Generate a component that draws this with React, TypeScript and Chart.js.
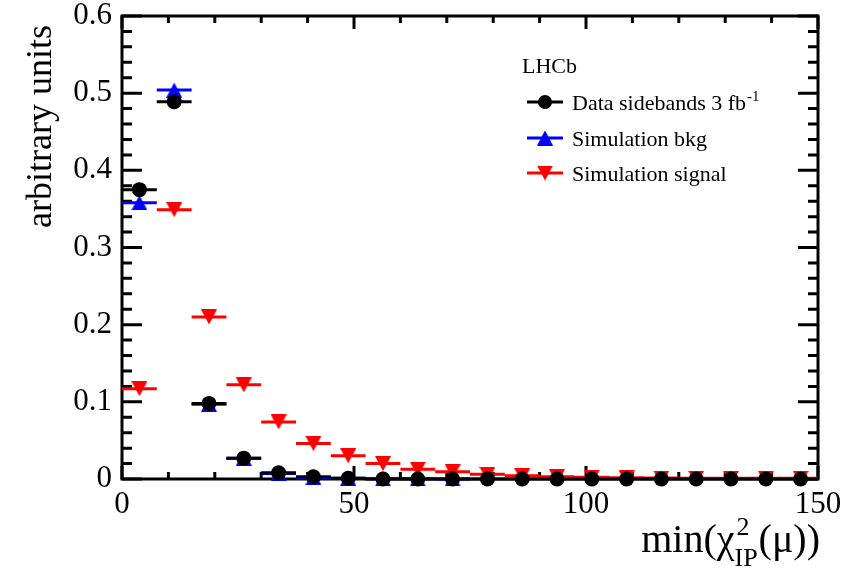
import React, { useEffect, useRef } from "react";
import { Chart, registerables } from "chart.js";

Chart.register(...registerables);

// ---- data ----
const binLow = [0, 7.5, 15, 22.5, 30, 37.5, 45, 52.5, 60, 67.5, 75, 82.5, 90, 97.5, 105, 112.5, 120, 127.5, 135, 142.5];
const binHigh = [7.5, 15, 22.5, 30, 37.5, 45, 52.5, 60, 67.5, 75, 82.5, 90, 97.5, 105, 112.5, 120, 127.5, 135, 142.5, 150];
const dataSidebands = [0.375, 0.489, 0.098, 0.027, 0.008, 0.003, 0.001, 0, 0, 0, 0, 0, 0, 0, 0, 0, 0, 0, 0, 0];
const simulationBkg = [0.358, 0.504, 0.097, 0.027, 0.007, 0.002, 0.001, 0.0003, 0.0002, 0.0001];
const simulationSignal = [0.117, 0.349, 0.21, 0.122, 0.074, 0.046, 0.03, 0.02, 0.0126, 0.0095, 0.006, 0.0043, 0.003, 0.0022, 0.0015, 0.0012, 0.001, 0.001, 0.001, 0.001];
const xTickValues = [0, 50, 100, 150];
const xTickLabels = ["0", "50", "100", "150"];
const yTickValues = [0, 0.1, 0.2, 0.3, 0.4, 0.5, 0.6];
const yTickLabels = ["0", "0.1", "0.2", "0.3", "0.4", "0.5", "0.6"];
const legendLabels = ["Data sidebands 3 fb", "Simulation bkg", "Simulation signal"];
const legendTitle = "LHCb";
const yTitle = "arbitrary units";

const FONT = "'Liberation Serif', 'Times New Roman', serif";
const BLACK = "#000000";
const BLUE = "#0000ff";
const RED = "#ff0000";

function makeTriangle(color: string, down: boolean): HTMLCanvasElement {
  const c = document.createElement("canvas");
  c.width = 16;
  c.height = 15;
  const g = c.getContext("2d")!;
  g.fillStyle = color;
  g.beginPath();
  if (down) {
    g.moveTo(0, 0);
    g.lineTo(16, 0);
    g.lineTo(8, 15);
  } else {
    g.moveTo(8, 0);
    g.lineTo(16, 15);
    g.lineTo(0, 15);
  }
  g.closePath();
  g.fill();
  return c;
}

function points(values: number[]) {
  return values.map((v, i) => ({ x: (binLow[i] + binHigh[i]) / 2, y: v }));
}

function bars(values: number[]) {
  const out: { x: number; y: number | null }[] = [];
  values.forEach((v, i) => {
    out.push({ x: binLow[i], y: v });
    out.push({ x: binHigh[i], y: v });
    out.push({ x: binHigh[i], y: null });
  });
  return out;
}

export default function App() {
  const ref = useRef<HTMLCanvasElement | null>(null);

  useEffect(() => {
    document.body.style.margin = "0";
    const canvas = ref.current!;
    const triUpBlue = makeTriangle(BLUE, false);
    const triDownRed = makeTriangle(RED, true);

    const rootPlugin = {
      id: "rootFrame",
      beforeDatasetsDraw(chart: any) {
        const { ctx, chartArea: a, scales } = chart;
        const xs = scales.x;
        const ys = scales.y;
        ctx.save();
        ctx.strokeStyle = BLACK;
        ctx.lineWidth = 3;
        ctx.lineCap = "butt";
        ctx.beginPath();
        for (let i = 0; i <= 15; i++) {
          const px = xs.getPixelForValue(i * 10);
          const len = i % 5 === 0 ? 13 : 7;
          ctx.moveTo(px, a.bottom);
          ctx.lineTo(px, a.bottom - len);
          ctx.moveTo(px, a.top);
          ctx.lineTo(px, a.top + len);
        }
        for (let i = 0; i <= 30; i++) {
          const py = ys.getPixelForValue(i * 0.02);
          const len = i % 5 === 0 ? 20 : 10;
          ctx.moveTo(a.left, py);
          ctx.lineTo(a.left + len, py);
          ctx.moveTo(a.right, py);
          ctx.lineTo(a.right - len, py);
        }
        ctx.stroke();
        ctx.strokeRect(a.left, a.top, a.right - a.left, a.bottom - a.top);

        // y title
        ctx.fillStyle = BLACK;
        ctx.font = `36px ${FONT}`;
        ctx.textAlign = "right";
        ctx.textBaseline = "alphabetic";
        ctx.translate(51, a.top + 9);
        ctx.rotate(-Math.PI / 2);
        ctx.fillText(yTitle, 0, 0);
        ctx.restore();
      },
      afterDraw(chart: any) {
        const { ctx } = chart;
        ctx.save();
        ctx.fillStyle = BLACK;
        ctx.textBaseline = "alphabetic";
        ctx.textAlign = "left";
        // x title: min(chi^2_IP(mu))
        const big = `40px ${FONT}`;
        const small = `26px ${FONT}`;
        ctx.font = big;
        const p1 = "min(\u03C7";
        const p2 = "(\u03BC))";
        const w1 = ctx.measureText(p1).width;
        const w3 = ctx.measureText(p2).width;
        ctx.font = small;
        const wsup = ctx.measureText("2").width;
        const wsub = ctx.measureText("IP").width;
        const w2 = Math.max(wsup, wsub) + 1;
        const total = w1 + w2 + w3;
        const right = 820;
        const base = 552;
        let x = right - total;
        ctx.font = big;
        ctx.fillText(p1, x, base);
        x += w1;
        ctx.font = small;
        ctx.fillText("2", x + 2, base - 17);
        ctx.fillText("IP", x, base + 14);
        x += w2;
        ctx.font = big;
        ctx.fillText(p2, x, base);

        // legend
        ctx.font = `22px ${FONT}`;
        ctx.fillText(legendTitle, 522, 73);
        const rows = [102, 138, 173];
        const colors = [BLACK, BLUE, RED];
        rows.forEach((ry, i) => {
          ctx.strokeStyle = colors[i];
          ctx.lineWidth = 3;
          ctx.beginPath();
          ctx.moveTo(527, ry);
          ctx.lineTo(563, ry);
          ctx.stroke();
          if (i === 0) {
            ctx.fillStyle = BLACK;
            ctx.beginPath();
            ctx.arc(545, ry, 7, 0, Math.PI * 2);
            ctx.fill();
          } else {
            const img = i === 1 ? triUpBlue : triDownRed;
            ctx.drawImage(img, 545 - 8, ry - 7.5);
          }
          ctx.fillStyle = BLACK;
          ctx.font = `22px ${FONT}`;
          ctx.fillText(legendLabels[i], 572, ry + 8);
          if (i === 0) {
            const w = ctx.measureText(legendLabels[i]).width;
            ctx.font = `15px ${FONT}`;
            ctx.fillText("-1", 572 + w + 1, ry - 1);
          }
        });
        ctx.restore();
      },
    };

    const chart = new Chart(canvas, {
      type: "scatter",
      data: {
        datasets: [
          {
            label: "Data sidebands markers",
            data: points(dataSidebands),
            pointStyle: "circle",
            pointRadius: 7.5,
            pointBorderWidth: 0,
            backgroundColor: BLACK,
            borderColor: BLACK,
            clip: false,
          } as any,
          {
            label: "Data sidebands bars",
            data: bars(dataSidebands),
            showLine: true,
            spanGaps: false,
            pointRadius: 0,
            borderColor: BLACK,
            borderWidth: 3,
            clip: false,
          } as any,
          {
            label: "Simulation bkg markers",
            data: points(simulationBkg),
            pointStyle: triUpBlue,
            pointRadius: 8,
            backgroundColor: BLUE,
            borderColor: BLUE,
            clip: false,
          } as any,
          {
            label: "Simulation bkg bars",
            data: bars(simulationBkg),
            showLine: true,
            spanGaps: false,
            pointRadius: 0,
            borderColor: BLUE,
            borderWidth: 3,
            clip: false,
          } as any,
          {
            label: "Simulation signal markers",
            data: points(simulationSignal),
            pointStyle: triDownRed,
            pointRadius: 8,
            backgroundColor: RED,
            borderColor: RED,
            clip: false,
          } as any,
          {
            label: "Simulation signal bars",
            data: bars(simulationSignal),
            showLine: true,
            spanGaps: false,
            pointRadius: 0,
            borderColor: RED,
            borderWidth: 3,
            clip: false,
          } as any,
        ],
      },
      options: {
        animation: false,
        responsive: false,
        devicePixelRatio: 1,
        layout: { padding: { left: 0, right: 28, top: 16, bottom: 0 } },
        plugins: {
          legend: { display: false },
          tooltip: { enabled: false },
        },
        scales: {
          x: {
            type: "linear",
            position: "bottom",
            min: 0,
            max: 150,
            grid: { display: false, drawTicks: false },
            border: { display: false },
            afterBuildTicks: (s: any) => {
              s.ticks = xTickValues.map((v) => ({ value: v }));
            },
            ticks: {
              color: BLACK,
              font: { family: FONT, size: 31 },
              padding: 7,
              maxRotation: 0,
              autoSkip: false,
              callback: (v: any) => {
                const i = xTickValues.indexOf(Number(v));
                return i >= 0 ? xTickLabels[i] : "";
              },
            },
            afterFit: (s: any) => {
              s.height = 93;
              s.paddingLeft = 0;
              s.paddingRight = 0;
            },
          },
          y: {
            type: "linear",
            position: "left",
            min: 0,
            max: 0.6,
            grid: { display: false, drawTicks: false },
            border: { display: false },
            afterBuildTicks: (s: any) => {
              s.ticks = yTickValues.map((v) => ({ value: v }));
            },
            ticks: {
              color: BLACK,
              font: { family: FONT, size: 31 },
              padding: 10,
              autoSkip: false,
              callback: (v: any) => {
                let best = 0;
                yTickValues.forEach((t, i) => {
                  if (Math.abs(t - Number(v)) < Math.abs(yTickValues[best] - Number(v))) best = i;
                });
                return yTickLabels[best];
              },
            },
            title: { display: false, text: yTitle },
            afterFit: (s: any) => {
              s.width = 122;
              s.paddingTop = 0;
              s.paddingBottom = 0;
            },
          },
        },
      } as any,
      plugins: [rootPlugin],
    });
    return () => chart.destroy();
  }, []);

  return (
    <canvas
      ref={ref}
      width={846}
      height={572}
      style={{ display: "block", width: 846, height: 572 }}
    />
  );
}
